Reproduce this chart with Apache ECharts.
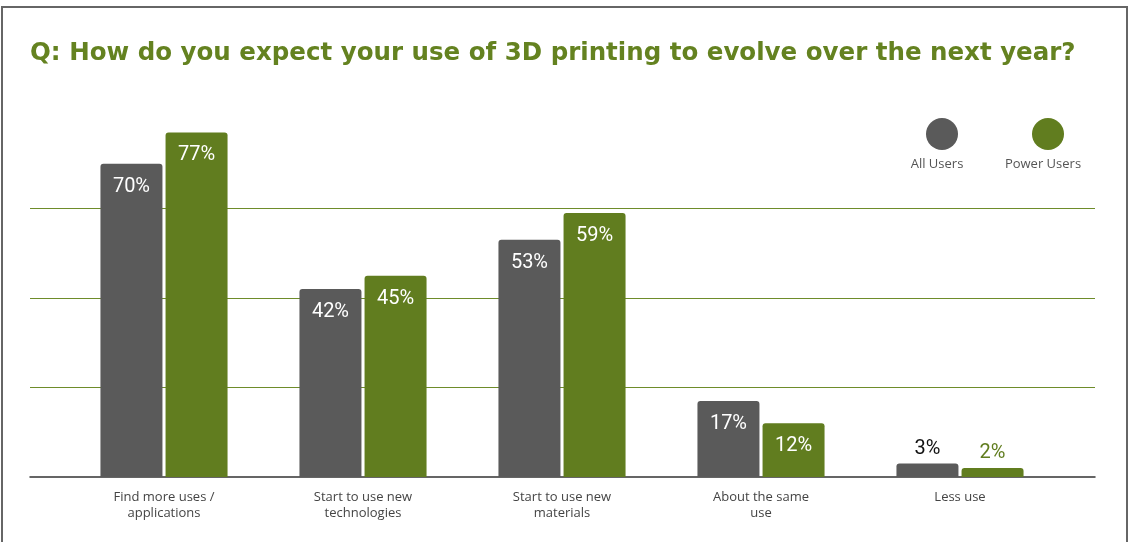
<!DOCTYPE html>
<html><head><meta charset="utf-8">
<script src="https://cdn.jsdelivr.net/npm/echarts@6/dist/echarts.min.js"></script>
<style>html,body{margin:0;padding:0;background:#fff}#c{width:1133px;height:542px}</style>
</head><body><div id="c"></div>
<script>
const categories = ['Find more uses /\napplications', 'Start to use new\ntechnologies', 'Start to use new\nmaterials', 'About the same\nuse', 'Less use'];
const allUsers = [70, 42, 53, 17, 3];
const powerUsers = [77, 45, 59, 12, 2];
const seriesNames = ['All Users', 'Power Users'];
const GRAY = '#5a5a5a', GREEN = '#617d1f';

const chart = echarts.init(document.getElementById('c'));
function lbl() {
  return {
    show: true,
    formatter: p => p.value + '%',
    fontFamily: 'Roboto', fontSize: 20,
    color: '#fff',
    position: 'insideTop', distance: 13
  };
}
function mkData(arr, smallColor) {
  return arr.map(v => v < 8 ? {value: v, label: {position: 'top', distance: 5, color: smallColor}} : v);
}
chart.setOption({
  animation: false,
  title: {text: 'Q: How do you expect your use of 3D printing to evolve over the next year?', left: 25, top: 36,
    textStyle: {color: '#648220', fontFamily: 'DejaVu Sans', fontWeight: 'bold', fontSize: 24.5}},
  legend: [
    {data: [seriesNames[0]], left: 921, top: 113, icon: 'circle', itemWidth: 32, itemHeight: 32, formatter: () => '', selectedMode: false},
    {data: [seriesNames[1]], left: 1027, top: 113, icon: 'circle', itemWidth: 32, itemHeight: 32, formatter: () => '', selectedMode: false}
  ],
  graphic: [
    {type: 'rect', shape: {x: 2, y: 7, width: 1125, height: 560}, style: {fill: 'none', stroke: '#666', lineWidth: 2}, silent: true},
    {type: 'text', x: 937, y: 164, style: {text: seriesNames[0], fill: '#555', font: '13px "Open Sans"', align: 'center', verticalAlign: 'middle'}},
    {type: 'text', x: 1043, y: 164, style: {text: seriesNames[1], fill: '#555', font: '13px "Open Sans"', align: 'center', verticalAlign: 'middle'}}
  ],
  grid: [
    {left: 30, right: 38, top: 119, bottom: 65},
    {left: 64.5, right: 73.5, top: 119, bottom: 65}
  ],
  xAxis: [
    {type: 'category', gridIndex: 0, data: categories, axisLine: {show: true, lineStyle: {color: '#333', width: 1.5}}, axisTick: {show: false}, axisLabel: {show: false}},
    {type: 'category', gridIndex: 1, data: categories, axisLine: {show: false}, axisTick: {show: false},
      axisLabel: {color: '#444', fontFamily: 'Open Sans', fontSize: 13, lineHeight: 16, margin: 12, interval: 0}}
  ],
  yAxis: [
    {type: 'value', gridIndex: 0, min: 0, max: 80, interval: 20, axisLabel: {show: false}, axisLine: {show: false}, axisTick: {show: false},
      splitLine: {show: true, showMinLine: false, showMaxLine: false, lineStyle: {color: '#6e8c2a', width: 1.2}}},
    {type: 'value', gridIndex: 1, min: 0, max: 80, interval: 20, show: false, splitLine: {show: false}}
  ],
  series: [
    {name: seriesNames[0], type: 'bar', xAxisIndex: 1, yAxisIndex: 1, data: mkData(allUsers, '#111'), barWidth: 62, barGap: '5%',
      itemStyle: {color: GRAY, borderRadius: [3, 3, 0, 0]}, label: lbl()},
    {name: seriesNames[1], type: 'bar', xAxisIndex: 1, yAxisIndex: 1, data: mkData(powerUsers, GREEN), barWidth: 62, barGap: '5%',
      itemStyle: {color: GREEN, borderRadius: [3, 3, 0, 0]}, label: lbl()}
  ]
});
</script></body></html>
